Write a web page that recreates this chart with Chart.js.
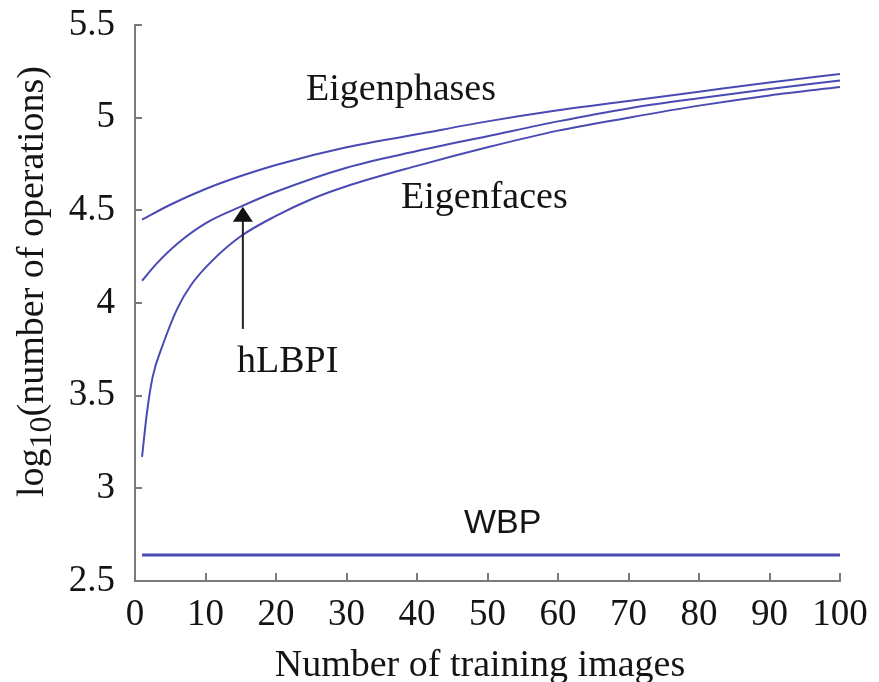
<!DOCTYPE html>
<html>
<head>
<meta charset="utf-8">
<script src="https://cdn.jsdelivr.net/npm/chart.js@4.4.0/dist/chart.umd.min.js"></script>
<style>
  body { margin: 0; background: #fff; }
  #wrap { width: 879px; height: 682px; }
</style>
</head>
<body>
<div id="wrap"><canvas id="myChart" width="879" height="682"></canvas></div>
<script>
// values
const xTicks = [0, 10, 20, 30, 40, 50, 60, 70, 80, 90, 100];
const yTicks = [2.5, 3, 3.5, 4, 4.5, 5, 5.5];

const eigenphasesX = [1, 5, 10, 15, 20, 30, 40, 50, 60, 70, 80, 90, 100];
const eigenphasesY = [4.45, 4.53, 4.615, 4.685, 4.745, 4.84, 4.91, 4.98, 5.04, 5.09, 5.14, 5.19, 5.235];

const hlbpiX = [1, 3, 6, 10, 15, 20, 30, 40, 50, 60, 70, 80, 90, 100];
const hlbpiY = [4.12, 4.21, 4.32, 4.43, 4.52, 4.60, 4.73, 4.82, 4.90, 4.98, 5.05, 5.105, 5.155, 5.20];

const eigenfacesX = [1, 1.7, 2.5, 4, 6, 8, 11, 15, 20, 25, 30, 40, 50, 60, 70, 80, 90, 100];
const eigenfacesY = [3.17, 3.41, 3.60, 3.78, 3.97, 4.10, 4.23, 4.36, 4.47, 4.56, 4.63, 4.74, 4.84, 4.93, 5.00, 5.065, 5.12, 5.165];

const wbpX = [1, 100];
const wbpY = [2.64, 2.64];

const lineColor = '#4a4ab4';
const axisColor = '#7a7a7a';
const textColor = '#141414';
const serif = "'Liberation Serif', 'Times New Roman', serif";

function pts(xs, ys) {
    return xs.map((x, i) => ({ x: x, y: ys[i] }));
}

// inward tick marks, axis titles and the curve labels
const decorations = {
    id: 'decorations',
    afterDraw(chart) {
        const ctx = chart.ctx;
        const xs = chart.scales.x, ys = chart.scales.y;
        const area = chart.chartArea;
        ctx.save();

        // ticks pointing into the plot
        ctx.strokeStyle = axisColor;
        ctx.lineWidth = 2;
        yTicks.slice(1).forEach(v => {
            const py = Math.round(ys.getPixelForValue(v));
            ctx.beginPath();
            ctx.moveTo(area.left, py);
            ctx.lineTo(area.left + 7, py);
            ctx.stroke();
        });
        xTicks.slice(1).forEach(v => {
            const px = Math.round(xs.getPixelForValue(v));
            ctx.beginPath();
            ctx.moveTo(px, area.bottom);
            ctx.lineTo(px, area.bottom - 8);
            ctx.stroke();
        });

        ctx.fillStyle = textColor;

        // x title
        ctx.font = '38px ' + serif;
        ctx.textAlign = 'center';
        ctx.textBaseline = 'alphabetic';
        ctx.fillText('Number of training images', 480, 676);

        // y title with subscript
        ctx.save();
        ctx.translate(43, 497);
        ctx.rotate(-Math.PI / 2);
        ctx.textAlign = 'left';
        ctx.font = '38px ' + serif;
        ctx.fillText('log', 0, 0);
        let w = ctx.measureText('log').width;
        ctx.font = '32px ' + serif;
        ctx.fillText('10', w, 8);
        w += ctx.measureText('10').width;
        ctx.font = '38px ' + serif;
        ctx.fillText('(number of operations)', w, 0);
        ctx.restore();

        // curve labels
        ctx.textAlign = 'left';
        ctx.font = '38px ' + serif;
        ctx.fillText('Eigenphases', 306, 100);
        ctx.fillText('Eigenfaces', 401, 208);
        ctx.fillText('hLBPI', 237, 372);
        ctx.font = "34px 'Liberation Sans', Arial, sans-serif";
        ctx.fillText('WBP', 464, 533);

        // arrow pointing at hLBPI curve
        const ax = xs.getPixelForValue(15.3);
        const tip = ys.getPixelForValue(4.52);
        const tail = ys.getPixelForValue(3.86);
        ctx.strokeStyle = '#222';
        ctx.lineWidth = 2;
        ctx.beginPath();
        ctx.moveTo(ax, tail);
        ctx.lineTo(ax, tip + 10);
        ctx.stroke();
        ctx.fillStyle = '#111';
        ctx.beginPath();
        ctx.moveTo(ax, tip);
        ctx.lineTo(ax - 10, tip + 15);
        ctx.lineTo(ax + 10, tip + 15);
        ctx.closePath();
        ctx.fill();

        ctx.restore();
    }
};

const ctx = document.getElementById('myChart').getContext('2d');
const myChart = new Chart(ctx, {
    type: 'line',
    data: {
        datasets: [
            { label: 'Eigenphases', data: pts(eigenphasesX, eigenphasesY), borderWidth: 2 },
            { label: 'hLBPI', data: pts(hlbpiX, hlbpiY), borderWidth: 2 },
            { label: 'Eigenfaces', data: pts(eigenfacesX, eigenfacesY), borderWidth: 2 },
            { label: 'WBP', data: pts(wbpX, wbpY), borderWidth: 3 }
        ].map(d => Object.assign(d, {
            borderColor: lineColor,
            backgroundColor: lineColor,
            pointRadius: 0,
            cubicInterpolationMode: 'monotone',
            fill: false
        }))
    },
    options: {
        responsive: false,
        devicePixelRatio: 1,
        animation: false,
        layout: { padding: { top: 25, right: 39, left: 0, bottom: 0 } },
        plugins: {
            legend: { display: false },
            tooltip: { enabled: false }
        },
        scales: {
            x: {
                type: 'linear',
                min: 0,
                max: 100,
                afterFit(scale) {
                    scale.height = 101;
                    scale.paddingLeft = 0;
                    scale.paddingRight = 0;
                },
                afterBuildTicks(scale) { scale.ticks = xTicks.map(v => ({ value: v })); },
                grid: { display: false, drawTicks: false },
                border: { display: true, color: axisColor, width: 2 },
                ticks: {
                    color: textColor,
                    padding: 12,
                    maxRotation: 0,
                    autoSkip: false,
                    font: { family: serif, size: 37 }
                }
            },
            y: {
                type: 'linear',
                min: 2.5,
                max: 5.5,
                afterFit(scale) {
                    scale.width = 135;
                    scale.paddingTop = 0;
                    scale.paddingBottom = 0;
                },
                afterBuildTicks(scale) { scale.ticks = yTicks.map(v => ({ value: v })); },
                grid: { display: false, drawTicks: false },
                border: { display: true, color: axisColor, width: 2 },
                ticks: {
                    color: textColor,
                    padding: 20,
                    font: { family: serif, size: 37 },
                    callback: v => String(v)
                }
            }
        }
    },
    plugins: [decorations]
});
</script>
</body>
</html>
